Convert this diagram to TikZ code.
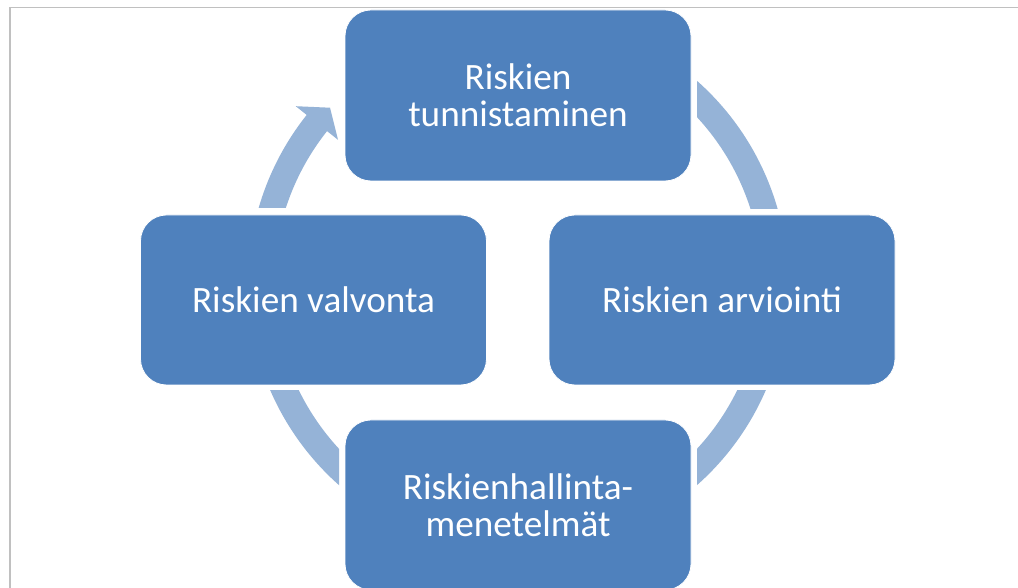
\documentclass[tikz,border=0pt]{standalone}
\usepackage{fontspec}
\setmainfont{Carlito}
\definecolor{boxblue}{HTML}{4F81BD}
\definecolor{arcblue}{HTML}{95B3D7}
\definecolor{framegray}{RGB}{192,192,192}
\begin{document}
\begin{tikzpicture}[x=1pt,y=1pt,
  stagebox/.style={fill=boxblue, draw=white, line width=0.8pt, rounded corners=26pt,
    minimum width=346pt, minimum height=170pt, inner sep=0pt, text=white, align=center,
    font=\fontsize{37.2pt}{37pt}\selectfont},
  band/.style={draw=arcblue, line width=26pt},
  bandfill/.style={fill=arcblue}]
\useasboundingbox (0,0) rectangle (1018,588);
\fill[white] (0,0) rectangle (1018,588);
\draw[framegray, line width=1.3pt] (10,0) -- (10,580.5) -- (1018,580.5);
\coordinate (C) at (518,305);
% arcs
\begin{scope}
  \clip (697,379) rectangle (1018,588);
  \draw[band] ([shift={(C)}]100:257) arc[start angle=100, end angle=-10, radius=257];
\end{scope}
\begin{scope}
  \clip (697,0) rectangle (1018,197);
  \draw[band] ([shift={(C)}]10:257) arc[start angle=10, end angle=-100, radius=257];
\end{scope}
\begin{scope}
  \clip (0,0) rectangle (339,197);
  \draw[band] ([shift={(C)}]170:257) arc[start angle=170, end angle=280, radius=257];
\end{scope}
\begin{scope}
  \clip (0,380) rectangle (1018,588);
  \fill[bandfill] ([shift={(C)}]175:270) arc[start angle=175, end angle=141.5, radius=270]
    -- ([shift={(C)}]141.5:284) -- ([shift={(C)}]137:257) -- ([shift={(C)}]141.5:230)
    -- ([shift={(C)}]141.5:244) arc[start angle=141.5, end angle=175, radius=244] -- cycle;
\end{scope}
% boxes
\node[stagebox, minimum height=171pt] (tunn) at (518,492.5) {Riskien\\tunnistaminen};
\node[stagebox] (arvi) at (722,288) {Riskien arviointi};
\node[stagebox] (valv) at (313.5,288) {Riskien valvonta};
\node[stagebox] (hall) at (518,83) {Riskienhallinta-\\menetelmät};
\end{tikzpicture}
\end{document}
